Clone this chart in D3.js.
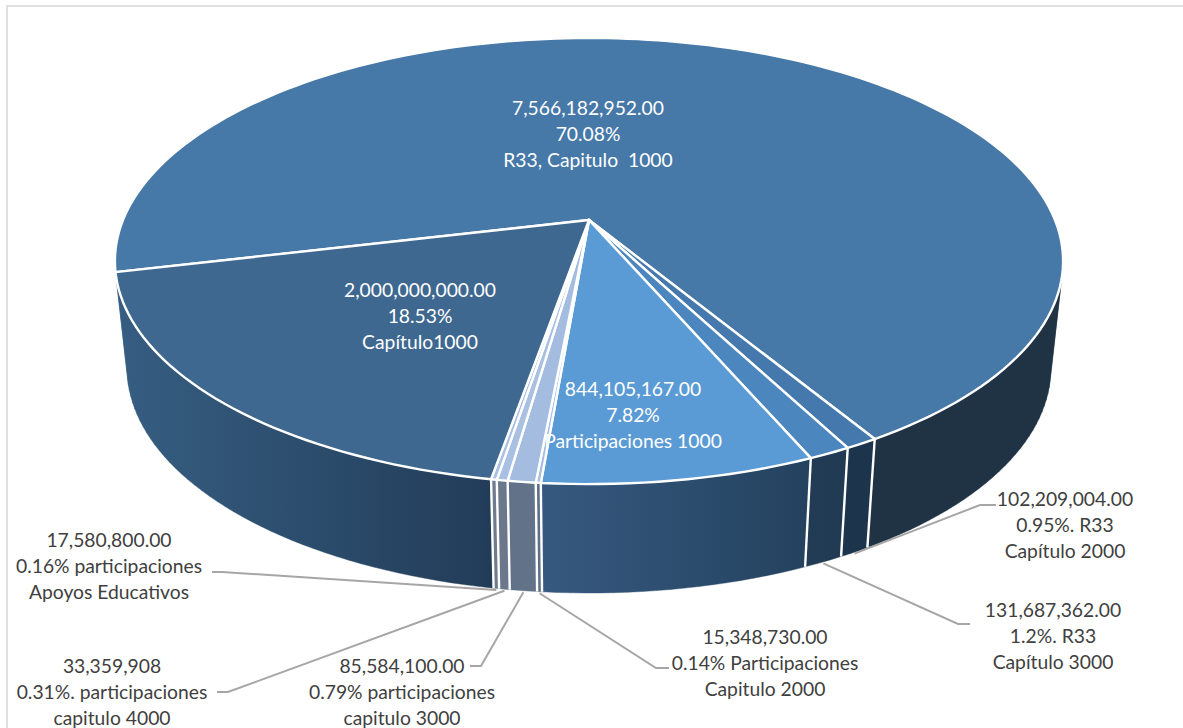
<!DOCTYPE html>
<html><head><meta charset="utf-8">
<script src="https://cdn.jsdelivr.net/npm/d3@7"></script>
<style>html,body{margin:0;padding:0;background:#fff}svg{display:block}text{white-space:pre}</style>
</head><body><svg id="c" width="1183" height="728"></svg>
<script>
const amounts = [7566182952, 102209004, 131687362, 844105167, 15348730, 85584100, 33359908, 17580800, 2000000000];
const labelLines = [
  ["7,566,182,952.00","70.08%","R33, Capitulo  1000"],
  ["102,209,004.00","0.95%. R33","Capítulo 2000"],
  ["131,687,362.00","1.2%. R33","Capítulo 3000"],
  ["844,105,167.00","7.82%","Participaciones 1000"],
  ["15,348,730.00","0.14% Participaciones","Capitulo 2000"],
  ["85,584,100.00","0.79% participaciones","capitulo 3000"],
  ["33,359,908","0.31%. participaciones","capitulo 4000"],
  ["17,580,800.00","0.16% participaciones","Apoyos Educativos"],
  ["2,000,000,000.00","18.53%","Capítulo1000"]
];
const labelCenters = [[588,108.5],[1065,499],[1053,610],[633,389.5],[765,637],[402,666],[112,666],[109,540],[420,290.5]];
const topColors = ["#4678a8","#4579ad","#4c86be","#5b9bd5","#a6bee2","#a4bce0","#a9c0e2","#a9c0e2","#3e6890"];
const wallColors = [["#1f3345","#1f3345"],["#1d344d","#1d344d"],["#233c56","#213a53"],["#36597f","#24425f"],["#5e6f87","#5e6f87"],["#617189","#637389"],["#6b788c","#6b788c"],["#6f7c8e","#6f7c8e"],["#365e82","#223c58"]];
const leaderElbows = [null,[[980,505],[996,505]],[[958,624],[970,624]],null,[[656,668],[669,668]],[[481,666],[470,666]],[[228,692],[217,692]],[[222,572],[212,572]],null];

const svg = d3.select("#c");
const defs = svg.append("defs");
const rad = Math.PI/180;
const pie = d3.pie().sort(null).value(d=>d).startAngle(256.6*rad).endAngle((256.6+360)*rad);
const arcs = pie(amounts);

// perspective projection of the two disks
const k = 0.184;
const topDisk = {cx:589, cy:220, A:466, B:215.5};
const botDisk = {cx:589, cy:326.6, A:454, B:217.4};
const proj = (disk,a,r=1)=>{const u=r*Math.sin(a), v=-r*Math.cos(a), w=1-k*v; return [disk.cx+disk.A*u/w, disk.cy+disk.B*v/w];};
const samples = d=>{const n=Math.max(2,Math.ceil((d.endAngle-d.startAngle)/(1.5*rad))); return d3.range(n+1).map(i=>d.startAngle+(d.endAngle-d.startAngle)*i/n);};

// walls
const gWalls = svg.append("g");
arcs.forEach((d,i)=>{
  const as = samples(d);
  const T = as.map(a=>proj(topDisk,a)), B = as.map(a=>proj(botDisk,a));
  let p = "";
  for(let j=0;j<as.length-1;j++){
    const q=[T[j],T[j+1],B[j+1],B[j]];
    if(d3.polygonArea(q)<0) continue; // back-facing
    p+="M"+q.map(c=>c.join(",")).join("L")+"Z";
  }
  const xs=T.concat(B).map(c=>c[0]);
  const id="w"+i;
  const g=defs.append("linearGradient").attr("id",id).attr("gradientUnits","userSpaceOnUse")
    .attr("x1",d3.min(xs)).attr("x2",d3.max(xs)).attr("y1",0).attr("y2",0);
  g.append("stop").attr("offset",0).attr("stop-color",wallColors[i][0]);
  g.append("stop").attr("offset",1).attr("stop-color",wallColors[i][1]);
  gWalls.append("path").attr("d",p).attr("fill",`url(#${id})`).attr("stroke",`url(#${id})`).attr("stroke-width",0.4);
});
// wall separators
arcs.forEach((d,i)=>{
  if(i===0) return;
  const a=proj(topDisk,d.startAngle), b=proj(botDisk,d.startAngle);
  gWalls.append("line").attr("x1",a[0]).attr("y1",a[1]).attr("x2",b[0]).attr("y2",b[1]).attr("stroke","#fff").attr("stroke-width",2.4);
});
// top faces
const line=d3.line();
const gTop=svg.append("g");
arcs.forEach((d,i)=>{
  const pts=[[topDisk.cx,topDisk.cy]].concat(samples(d).map(a=>proj(topDisk,a)));
  gTop.append("path").attr("d",line(pts)+"Z").attr("fill",topColors[i]).attr("stroke","#fff").attr("stroke-width",2.4).attr("stroke-linejoin","round");
});
// leader lines
arcs.forEach((d,i)=>{
  if(!leaderElbows[i]) return;
  const s=proj(botDisk,(d.startAngle+d.endAngle)/2);
  svg.append("path").attr("d",line([[s[0],s[1]+1.5]].concat(leaderElbows[i]))).attr("fill","none").attr("stroke","#a6a6a6").attr("stroke-width",2);
});
// labels
const inside=new Set([0,3,8]);
arcs.forEach((d,i)=>{
  const [x,y]=labelCenters[i];
  labelLines[i].forEach((t,j)=>{
    svg.append("text").attr("x",x).attr("y",y+j*26).attr("dy","0.35em").attr("text-anchor","middle")
      .attr("font-family","Lato, Carlito, sans-serif").attr("font-size",19.3)
      .attr("fill",inside.has(i)?"#ffffff":"#404040").text(t);
  });
});
// frame
svg.append("path").attr("d","M7,728V6H1183").attr("fill","none").attr("stroke","#e0e0e0").attr("stroke-width",2);
</script></body></html>
